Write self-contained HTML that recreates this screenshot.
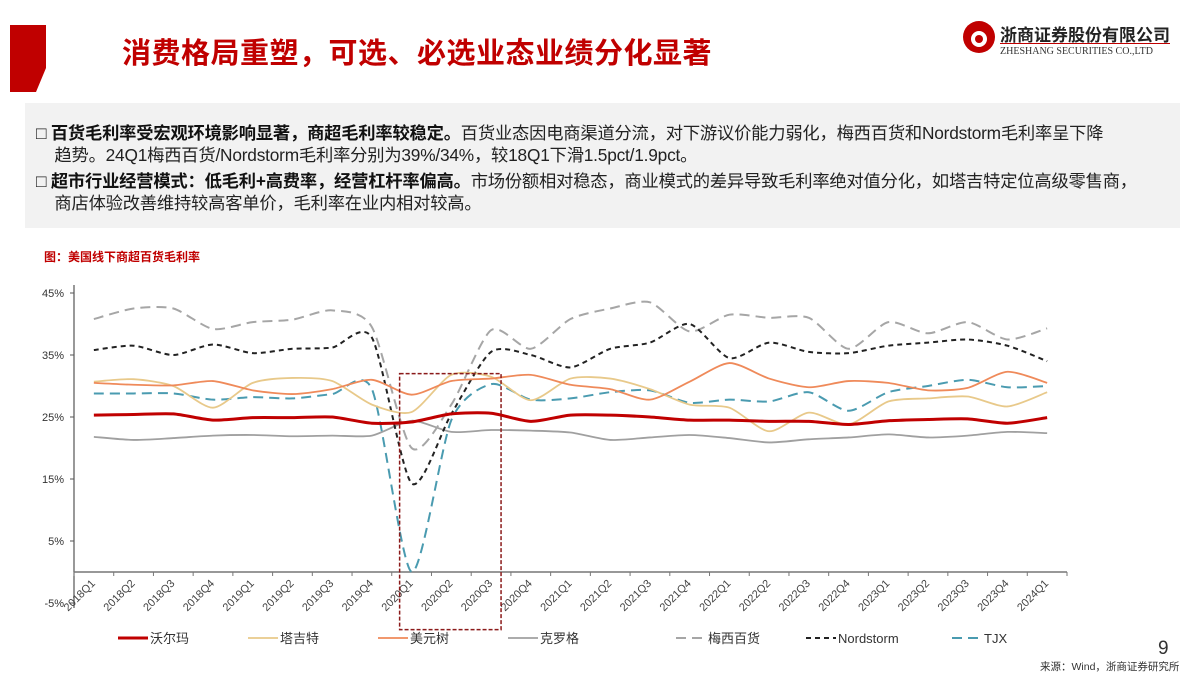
<!DOCTYPE html>
<html><head><meta charset="utf-8">
<style>
body{margin:0;width:1200px;height:675px;background:#fff;font-family:"Liberation Sans","Noto Sans CJK SC",sans-serif;position:relative;overflow:hidden}
.abs{position:absolute}
.title{left:122px;top:30px;font-size:29px;font-weight:bold;color:#c00000;letter-spacing:0.5px}
.box{left:25px;top:103px;width:1155px;height:125px;background:#f2f2f2}
.p{left:36px;font-size:17.3px;color:#222;line-height:22px;width:1140px;white-space:nowrap;letter-spacing:-0.2px}
.p b{color:#111}
</style></head><body>
<svg class="abs" style="left:0;top:0" width="60" height="100"><polygon points="10,25 46,25 46,68 36,92 10,92" fill="#c00000"/></svg>
<div class="abs title">消费格局重塑，可选、必选业态业绩分化显著</div>
<div class="abs" style="left:962px;top:20px;width:215px;height:40px">
<svg width="34" height="34" style="position:absolute;left:0;top:0"><circle cx="17" cy="17" r="16" fill="#c00000"/><circle cx="17" cy="19" r="8" fill="#fff"/><circle cx="17" cy="19" r="4" fill="#c00000"/></svg>
<div style="position:absolute;left:38px;top:1px;font-size:17px;font-weight:bold;color:#222;white-space:nowrap">浙商证券股份有限公司</div>
<div style="position:absolute;left:38px;top:23px;width:170px;border-top:1px solid #c00000"></div>
<div style="position:absolute;left:38px;top:26px;font-family:'Liberation Serif',serif;font-size:10px;color:#333;white-space:nowrap">ZHESHANG SECURITIES CO.,LTD</div>
</div>
<div class="abs box"></div>
<div class="abs p" style="top:122px">□ <b>百货毛利率受宏观环境影响显著，商超毛利率较稳定。</b>百货业态因电商渠道分流，对下游议价能力弱化，梅西百货和Nordstorm毛利率呈下降<br>&nbsp;&nbsp;&nbsp;&nbsp;趋势。24Q1梅西百货/Nordstorm毛利率分别为39%/34%，较18Q1下滑1.5pct/1.9pct。</div>
<div class="abs p" style="top:170px">□ <b>超市行业经营模式：低毛利+高费率，经营杠杆率偏高。</b>市场份额相对稳态，商业模式的差异导致毛利率绝对值分化，如塔吉特定位高级零售商，<br>&nbsp;&nbsp;&nbsp;&nbsp;商店体验改善维持较高客单价，毛利率在业内相对较高。</div>
<div class="abs" style="left:44px;top:248px;font-size:12px;font-weight:bold;color:#c00000">图：美国线下商超百货毛利率</div>
<svg id="chart" class="abs" style="left:0;top:0" width="1200" height="675"></svg>
<div class="abs" style="left:1158px;top:638px;font-size:19px;color:#333">9</div>
<div class="abs" style="left:1040px;top:659px;font-size:10.5px;color:#333">来源：Wind，浙商证券研究所</div>
<script>
const categories=["2018Q1","2018Q2","2018Q3","2018Q4","2019Q1","2019Q2","2019Q3","2019Q4","2020Q1","2020Q2","2020Q3","2020Q4","2021Q1","2021Q2","2021Q3","2021Q4","2022Q1","2022Q2","2022Q3","2022Q4","2023Q1","2023Q2","2023Q3","2023Q4","2024Q1"];
const yTicks=[45,35,25,15,5,-5];
const walmart=[25.3,25.4,25.5,24.5,24.9,24.9,25.0,24.0,24.2,25.5,25.6,24.3,25.3,25.3,25.0,24.5,24.5,24.3,24.3,23.8,24.4,24.6,24.7,24.0,24.9];
const target=[30.7,31.1,30.0,26.5,30.5,31.3,30.8,27.0,25.8,31.8,31.5,27.7,31.2,31.2,29.5,27.0,26.5,22.7,25.7,23.8,27.5,28.0,28.3,26.7,29.0];
const dollarTree=[30.5,30.2,30.1,30.8,29.3,28.7,29.5,31.0,28.6,30.8,31.2,31.8,30.2,29.5,27.8,30.7,33.7,31.2,29.8,30.8,30.5,29.3,29.7,32.3,30.5];
const kroger=[21.8,21.3,21.6,22.0,22.1,21.9,22.0,22.0,24.4,22.6,22.9,22.8,22.5,21.3,21.7,22.1,21.6,20.9,21.4,21.7,22.2,21.7,22.0,22.6,22.4];
const macys=[40.8,42.5,42.5,39.2,40.3,40.7,42.2,39.5,20.0,27.0,39.0,36.0,40.8,42.5,43.5,38.8,41.5,41.0,41.0,36.0,40.3,38.5,40.3,37.5,39.3];
const nordstrom=[35.8,36.5,35.0,36.7,35.3,36.0,36.2,37.8,14.3,25.5,35.5,35.0,33.0,36.0,37.0,40.0,34.5,37.0,35.5,35.3,36.5,37.0,37.5,36.5,34.0];
const tjx=[28.8,28.8,28.8,27.8,28.2,28.0,28.7,29.5,0.0,24.5,30.3,27.8,28.0,29.0,29.3,27.3,27.8,27.5,29.0,26.0,29.0,30.0,31.0,29.8,30.0];
const seriesNames=["沃尔玛","塔吉特","美元树","克罗格","梅西百货","Nordstorm","TJX"];
const seriesData=[walmart,target,dollarTree,kroger,macys,nordstrom,tjx];
const NS="http://www.w3.org/2000/svg";
const svg=document.getElementById('chart');
const X0=74,X1=1067,Y0=572;
const bw=(X1-X0)/categories.length;
const xs=i=>X0+(i+0.5)*bw;
const ys=v=>Y0-v*6.2;
function mk(t,a){const e=document.createElementNS(NS,t);for(const k in a)e.setAttribute(k,a[k]);svg.appendChild(e);return e;}
let e=mk('line',{x1:X0,y1:285,x2:X0,y2:608,stroke:'#555','stroke-width':1.2});


e=mk('line',{x1:X0,y1:Y0,x2:X1,y2:Y0,stroke:'#777','stroke-width':1.5});


yTicks.forEach(t=>{
 const y=ys(t);
 mk('line',{x1:X0-4,y1:y,x2:X0,y2:y,stroke:'#555'});
 const tx=mk('text',{x:X0-10,y:y+4,'text-anchor':'end','font-size':11,fill:'#333'});
 tx.textContent=t+'%';
 
 
});
for(let i=0;i<=categories.length;i++){mk('line',{x1:X0+i*bw,y1:Y0,x2:X0+i*bw,y2:Y0+4,stroke:'#777'});}
categories.forEach((c,i)=>{
 const x=xs(i)+2,y=Y0+12;
 const tx=mk('text',{x:x,y:y,'text-anchor':'end','font-size':11,fill:'#444',transform:`rotate(-45 ${x} ${y})`});
 tx.textContent=c;
 
 
});
const styles=[
 {c:'#c00000',w:3,d:''},{c:'#e8c98a',w:1.8,d:''},{c:'#ef8a5a',w:1.8,d:''},{c:'#a0a0a0',w:1.8,d:''},
 {c:'#a6a6a6',w:2,d:'10,6'},{c:'#222',w:2,d:'5,4'},{c:'#4a9bb0',w:2,d:'10,6'}];
function smooth(pts){
 let d=`M${pts[0][0]},${pts[0][1]}`;
 const k=8;
 for(let i=0;i<pts.length-1;i++){
  const p0=pts[i-1]||pts[i],p1=pts[i],p2=pts[i+1],p3=pts[i+2]||p2;
  d+=` C${p1[0]+(p2[0]-p0[0])/k},${p1[1]+(p2[1]-p0[1])/k} ${p2[0]-(p3[0]-p1[0])/k},${p2[1]-(p3[1]-p1[1])/k} ${p2[0]},${p2[1]}`;
 }
 return d;
}
const order=[3,4,5,6,1,2,0];
order.forEach(s=>{
 const st=styles[s];
 const p=mk('path',{d:smooth(seriesData[s].map((v,i)=>[xs(i),ys(v)])),fill:'none',stroke:st.c,'stroke-width':st.w,'stroke-dasharray':st.d});
 
 
});
const hb=mk('rect',{x:xs(8)-12,y:ys(32),width:bw*2+22,height:ys(-9.3)-ys(32),fill:'none',stroke:'#8b1a1a','stroke-width':1.5,'stroke-dasharray':'4,2'});


const lx=[118,248,378,508,676,806,952];
seriesNames.forEach((n,i)=>{
 const st=styles[i],y=638;
 const l=mk('line',{x1:lx[i],y1:y,x2:lx[i]+30,y2:y,stroke:st.c,'stroke-width':st.w,'stroke-dasharray':st.d});
 
 
 const t=mk('text',{x:lx[i]+32,y:y+5,'font-size':13,fill:'#333'});
 t.textContent=n;
 
 
});
</script>
</body></html>
